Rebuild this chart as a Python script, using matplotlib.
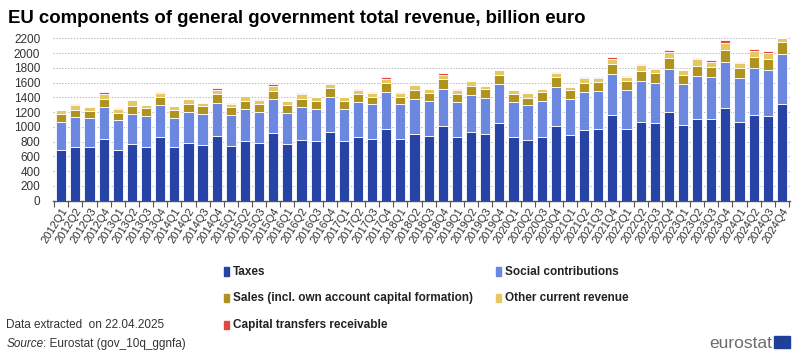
import numpy as np
import matplotlib
matplotlib.use('Agg')
import matplotlib.pyplot as plt
from matplotlib.patches import Rectangle

plt.rcParams['font.family'] = ['Liberation Sans', 'DejaVu Sans']

# ---------------------------------------------------------------------------
# Data (billion euro)
# ---------------------------------------------------------------------------

quarters = [f'{y}Q{q}' for y in range(2012, 2025) for q in range(1, 5)]

taxes = [682, 732, 723, 836, 691, 768, 727, 864, 727, 782, 754, 877,
         741, 809, 782, 914, 768, 823, 809, 932, 805, 868, 836, 968,
         836, 904, 877, 1009, 868, 932, 904, 1054, 859, 823, 868, 1018,
         891, 959, 973, 1164, 968, 1068, 1054, 1200, 1023, 1104, 1104, 1250,
         1073, 1168, 1154, 1314]

social = [386, 404, 391, 437, 404, 409, 423, 431, 396, 422, 423, 450,
          427, 432, 422, 468, 427, 450, 436, 477, 440, 468, 468, 505,
          468, 473, 473, 509, 473, 495, 482, 523, 477, 468, 486, 527,
          486, 518, 513, 554, 536, 555, 541, 591, 554, 591, 569, 632,
          595, 636, 614, 677]

sales = [109, 96, 104, 109, 100, 109, 100, 105, 104, 110, 109, 118,
         96, 109, 110, 104, 105, 109, 105, 123, 109, 105, 105, 122,
         105, 123, 113, 132, 109, 123, 127, 132, 114, 104, 123, 128,
         118, 114, 123, 141, 123, 136, 141, 145, 132, 132, 136, 163,
         132, 141, 155, 159]

other = [46, 68, 46, 59, 50, 73, 41, 54, 55, 59, 37, 59,
         50, 68, 54, 64, 45, 68, 50, 54, 50, 63, 54, 59,
         54, 63, 50, 59, 54, 68, 41, 59, 45, 64, 36, 59,
         41, 72, 54, 68, 50, 82, 55, 77, 59, 100, 77, 87,
         68, 91, 77, 54]

capital = [6, 6, 6, 27, 6, 6, 6, 23, 6, 6, 6, 23,
           6, 6, 6, 32, 6, 6, 6, 6, 6, 6, 6, 19,
           6, 6, 6, 18, 6, 6, 6, 6, 6, 6, 6, 6,
           6, 19, 19, 18, 18, 6, 6, 28, 6, 14, 18, 45,
           6, 27, 23, 6]

series = [
    ('Taxes', taxes, '#2743a6'),
    ('Social contributions', social, '#6b87e0'),
    ('Sales (incl. own account capital formation)', sales, '#b0921e'),
    ('Other current revenue', other, '#e6c862'),
    ('Capital transfers receivable', capital, '#e04848'),
]

# ---------------------------------------------------------------------------
# Plot
# ---------------------------------------------------------------------------

fig = plt.figure(figsize=(8.0, 3.55), dpi=100)
ax = fig.add_axes([0.066, 0.435, 0.922, 0.465])

x = np.arange(len(quarters))
bottom = np.zeros(len(quarters))
for name, vals, col in series:
    vals = np.array(vals, dtype=float)
    ax.bar(x, vals, bottom=bottom, width=0.72, color=col,
           edgecolor='white', linewidth=0.6, label=name, zorder=3)
    bottom += vals

ax.set_xlim(-0.6, len(quarters) - 0.4)
ax.set_ylim(0, 2240)
ax.set_yticks(range(0, 2201, 200))
ax.tick_params(axis='y', length=0, labelsize=8.5, pad=9, colors='#333333')
ax.yaxis.grid(True, linestyle=(0, (1.5, 1.5)), color='#bbbbbb', linewidth=0.7, zorder=0)

ax.set_xticks(x)
ax.set_xticklabels(quarters, rotation=58, ha='right', rotation_mode='anchor',
                   fontsize=8, color='#333333')
ax.tick_params(axis='x', length=0, pad=4)
ax.set_xticks(np.arange(-0.5, len(quarters), 1), minor=True)
ax.tick_params(axis='x', which='minor', length=4, color='#555555', width=0.8)

for s in ['top', 'right', 'left']:
    ax.spines[s].set_visible(False)
ax.spines['bottom'].set_color('#555555')
ax.spines['bottom'].set_linewidth(1.0)

fig.text(0.01, 0.935, 'EU components of general government total revenue, billion euro',
         fontsize=13.4, fontweight='bold', color='black')

# legend: two columns, small square markers
leg_pos = [(0.28, 0.235), (0.62, 0.235), (0.28, 0.16), (0.62, 0.16), (0.28, 0.085)]
for (name, vals, col), (lx, ly) in zip(series, leg_pos):
    fig.patches.append(Rectangle((lx, ly - 0.012), 0.0065, 0.024,
                                 transform=fig.transFigure, color=col, figure=fig))
    fig.text(lx + 0.011, ly, name, fontsize=8.5, fontweight='bold',
             va='center', color='#222222')

fig.text(0.008, 0.085, 'Data extracted  on 22.04.2025', fontsize=8.5,
         va='center', color='#333333')
fig.text(0.008, 0.032, 'Source', fontsize=8.5, style='italic',
         va='center', color='#333333')
fig.text(0.054, 0.032, ': Eurostat (gov_10q_ggnfa)', fontsize=8.5,
         va='center', color='#333333')

# eurostat logo
fig.text(0.965, 0.02, 'eurostat', fontsize=12.5, color='#6d6d6d',
         ha='right', va='baseline')
fig.patches.append(Rectangle((0.9675, 0.02), 0.02, 0.034,
                             transform=fig.transFigure, color='#1f3f99', figure=fig))

fig.savefig('out.png', dpi=100)
